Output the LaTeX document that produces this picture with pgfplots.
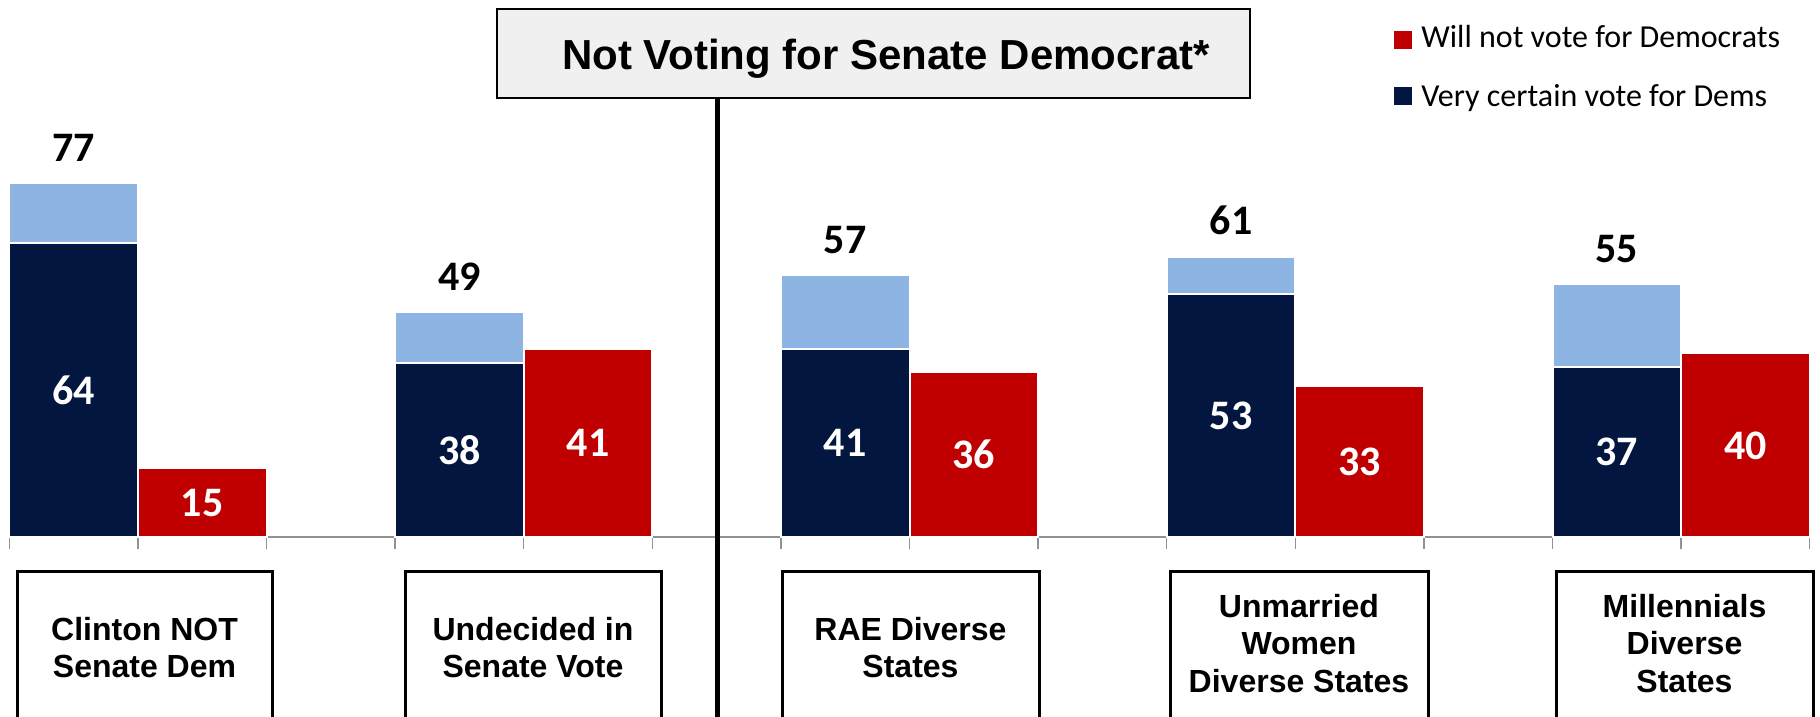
\documentclass[border=0pt]{standalone}
\usepackage{pgfplots}
\usepackage{pgfplotstable}
\pgfplotsset{compat=1.18}
\usepackage{fontspec}
\setmainfont{Liberation Sans}
\newfontfamily\carlito{Carlito}
\definecolor{navy}{RGB}{2,22,64}
\definecolor{lightblue}{RGB}{142,180,227}
\definecolor{darkred}{RGB}{192,0,0}
\definecolor{tickgray}{RGB}{145,145,145}
\definecolor{titlefill}{RGB}{240,240,240}

\pgfplotstableread{
xd   xr   total certain notvote
0.5  1.5  77    64      15
3.5  4.5  49    38      41
6.5  7.5  57    41      36
9.5  10.5 61    53      33
12.5 13.5 55    37      40
}\data

\begin{document}
\begin{tikzpicture}
\path[use as bounding box] (0,0) rectangle (910pt,-358.5pt);
\begin{scope}
\clip (0,0) rectangle (910pt,-358.5pt);
\begin{axis}[
  at={(4.65pt,-268.7pt)}, anchor=south west,
  scale only axis, width=900.2pt, height=230pt,
  xmin=0, xmax=14, ymin=0, ymax=100,
  axis x line=bottom, axis y line=none,
  axis line style={draw=tickgray, line width=1pt, -},
  xtick={0,...,14}, xticklabels={}, ytick=\empty,
  tick align=outside, major tick length=6pt,
  tick style={draw=tickgray, line width=0.75pt},
  /pgf/number format/assume math mode=true,
  clip=false,
]
\addplot[ybar, bar width=1, bar shift=0pt, fill=lightblue, draw=white, line width=1pt] table[x=xd, y=total]{\data};
\addplot[ybar, bar width=1, bar shift=0pt, fill=navy, draw=white, line width=1pt] table[x=xd, y=certain]{\data};
\addplot[ybar, bar width=1, bar shift=0pt, fill=darkred, draw=white, line width=1pt] table[x=xr, y=notvote]{\data};
% totals above
\addplot[draw=none, mark=none, nodes near coords, point meta=explicit,
  every node near coord/.append style={anchor=base, yshift=11pt, text=black, font=\carlito\bfseries\fontsize{21}{25}\selectfont}]
  table[x=xd, y=total, meta=total]{\data};
% inside dark
\addplot[draw=none, mark=none, nodes near coords, point meta=explicit,
  every node near coord/.append style={anchor=center, yshift=0pt, text=white, font=\carlito\bfseries\fontsize{21}{25}\selectfont}]
  table[x=xd, y expr=\thisrow{certain}/2, meta=certain]{\data};
% inside red
\addplot[draw=none, mark=none, nodes near coords, point meta=explicit,
  every node near coord/.append style={anchor=center, yshift=0pt, text=white, font=\carlito\bfseries\fontsize{21}{25}\selectfont}]
  table[x=xr, y expr=\thisrow{notvote}/2, meta=notvote]{\data};
\end{axis}

\begin{scope}[x=0.5pt, y=-0.5pt]
% vertical divider
\draw[line width=2.5pt] (717,97) -- (717,740);
% title box
\draw[line width=1.25pt, fill=titlefill] (497,9) rectangle (1250,98);
\node[anchor=base, inner sep=0, font=\bfseries\fontsize{21}{25}\selectfont] at (886,70) {Not Voting for Senate Democrat*};
% legend
\fill[darkred] (1394,31) rectangle (1412,49);
\node[anchor=base west, inner sep=0, font=\carlito\fontsize{16}{19}\selectfont] at (1421,48) {Will not vote for Democrats};
\fill[navy] (1394,87) rectangle (1412,105);
\node[anchor=base west, inner sep=0, font=\carlito\fontsize{16}{19}\selectfont] at (1421,106) {Very certain vote for Dems};
% category boxes
\tikzset{cat/.style={anchor=base, inner sep=0, font=\bfseries\fontsize{16}{18.75}\selectfont}}
\draw[line width=1.5pt] (17,571) rectangle (272,719);
\node[cat] at (144.5,640) {Clinton NOT};
\node[cat] at (144.5,677.5) {Senate Dem};
\draw[line width=1.5pt] (405,571) rectangle (661,719);
\node[cat] at (533,640) {Undecided in};
\node[cat] at (533,677.5) {Senate Vote};
\draw[line width=1.5pt] (782,571) rectangle (1039,719);
\node[cat] at (910.5,640) {RAE Diverse};
\node[cat] at (910.5,677.5) {States};
\draw[line width=1.5pt] (1170,571) rectangle (1428,719);
\node[cat] at (1299,617) {Unmarried};
\node[cat] at (1299,654.5) {Women};
\node[cat] at (1299,692) {Diverse States};
\draw[line width=1.5pt] (1556,571) rectangle (1813,719);
\node[cat] at (1684.5,617) {Millennials};
\node[cat] at (1684.5,654.5) {Diverse};
\node[cat] at (1684.5,692) {States};
\end{scope}
\end{scope}
\end{tikzpicture}
\end{document}
